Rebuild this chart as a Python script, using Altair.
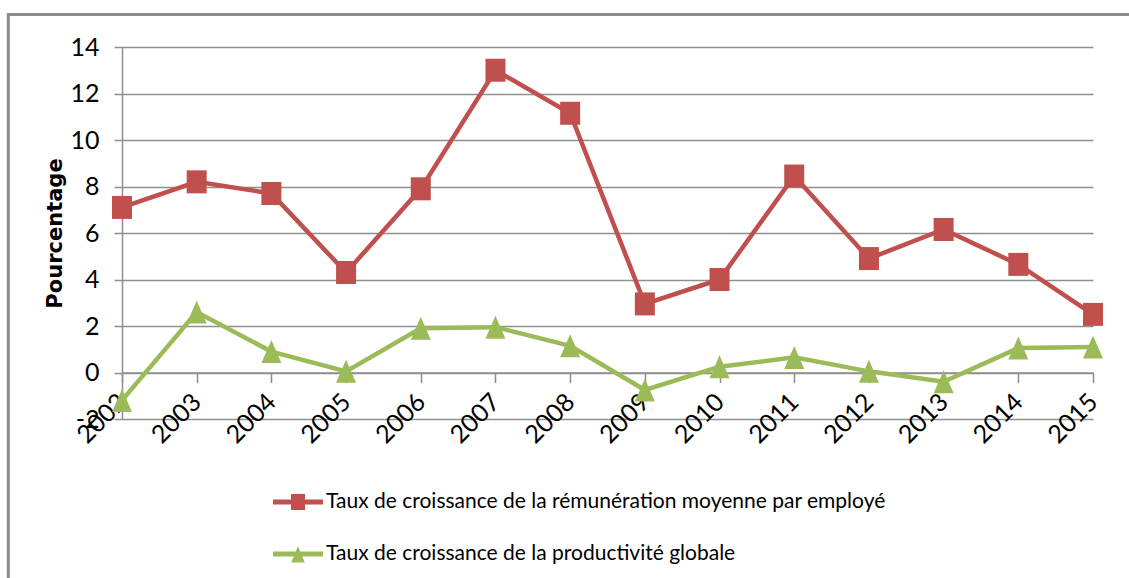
import altair as alt
import pandas as pd

# Annual growth rates (%) 2002-2015
years = list(range(2002, 2016))
remuneration = [7.1, 8.2, 7.7, 4.3, 7.9, 13.0, 11.15, 2.95, 4.0, 8.45, 4.9, 6.15, 4.65, 2.5]
productivite = [-1.2, 2.6, 0.9, 0.05, 1.9, 1.95, 1.15, -0.75, 0.25, 0.65, 0.05, -0.4, 1.05, 1.1]
y_ticks = list(range(-2, 15, 2))

series_names = [
    "Taux de croissance de la rémunération moyenne par employé",
    "Taux de croissance de la productivité globale",
]
series_colors = ["#C0504D", "#9BBB59"]

rows = []
for name, vals in zip(series_names, [remuneration, productivite]):
    for yr, v in zip(years, vals):
        rows.append({"annee": yr, "serie": name, "valeur": v})
df = pd.DataFrame(rows)

FONT = "Lato"
GRID = "#8f8f8f"
W, H = 971, 372

# marker outlines (slightly tall, as drawn in the sheet)
SQUARE = "M-1,-1.15H1V1.15H-1Z"
TRIANGLE = "M0,-1.15L1,1.15L-1,1.15Z"
# legend keys: a short line segment with the marker in its middle
KEY_SQUARE = "M-1,-0.1H1V0.1H-1Z M-0.28,-0.32H0.28V0.32H-0.28Z"
KEY_TRIANGLE = "M-1,-0.1H1V0.1H-1Z M-0.27,0.34L0,-0.32L0.27,0.34Z"

x_enc = alt.X(
    "annee:Q",
    scale=alt.Scale(domain=[2002, 2015], nice=False, zero=False),
    axis=alt.Axis(
        values=years, format="d", title=None, grid=False,
        offset=-46.5, labelAngle=-45, labelAlign="right", labelBaseline="middle",
        labelPadding=15, tickSize=10, tickColor=GRID, tickWidth=1.5,
        domainColor=GRID, domainWidth=1.5,
        labelFont=FONT, labelFontSize=25, labelColor="black",
    ),
)
y_enc = alt.Y(
    "valeur:Q",
    scale=alt.Scale(domain=[-2, 14], nice=False, zero=False),
    axis=alt.Axis(
        values=y_ticks, title="Pourcentage", grid=True,
        labelExpr="datum.value < 0 ? '-' + abs(datum.value) : '' + datum.value",
        gridColor=GRID, gridWidth=1.5, tickColor=GRID, tickWidth=1.5, tickSize=8,
        domainColor=GRID, domainWidth=1.5,
        labelFont=FONT, labelFontSize=25, labelColor="black", labelPadding=15,
        titleFont="DejaVu Sans", titleFontSize=21, titleFontWeight="bold",
        titleColor="black", titleX=-67, titleY=186, titleAlign="center",
        titleBaseline="middle", titleAngle=270,
    ),
)

layers = []
for name, color, shape in zip(series_names, series_colors, [SQUARE, TRIANGLE]):
    sub = alt.Chart(df).transform_filter(alt.datum.serie == name)
    layers.append(sub.mark_line(color=color, strokeWidth=4.5).encode(x=x_enc, y=y_enc))
    layers.append(
        sub.mark_point(shape=shape, filled=True, size=400, color=color, opacity=1, strokeWidth=0)
        .encode(x=x_enc, y=y_enc)
    )

legend_layer = (
    alt.Chart(df)
    .mark_point(filled=True, opacity=1, strokeWidth=0)
    .transform_filter("false")
    .encode(
        color=alt.Color(
            "serie:N",
            scale=alt.Scale(domain=series_names, range=series_colors),
            legend=alt.Legend(
                title=None, orient="none", legendX=151, legendY=430,
                direction="vertical", symbolSize=2500, symbolStrokeWidth=0,
                symbolOpacity=1, labelFont=FONT, labelFontSize=21,
                labelColor="black", labelLimit=0, labelOffset=3,
                rowPadding=17, padding=0,
            ),
        ),
        shape=alt.Shape(
            "serie:N",
            scale=alt.Scale(domain=series_names, range=[KEY_SQUARE, KEY_TRIANGLE]),
        ),
    )
)

frame = alt.Chart(alt.Data(values=[{}]))
border_top = frame.mark_rule(color="#8a8a8a", strokeWidth=3).encode(
    x=alt.value(-114), x2=alt.value(1015), y=alt.value(-32.5)
)
border_left = frame.mark_rule(color="#8a8a8a", strokeWidth=3).encode(
    x=alt.value(-113.7), y=alt.value(-34), y2=alt.value(540)
)

chart = (
    alt.layer(border_top, border_left, *layers, legend_layer)
    .properties(
        width=W, height=H,
        autosize=alt.AutoSizeParams(type="none"),
        padding={"left": 122, "top": 47, "right": 36, "bottom": 159},
        background="white",
    )
    .configure_view(stroke=None)
)

chart.save("out.html", embed_options={"renderer": "svg", "actions": False})
